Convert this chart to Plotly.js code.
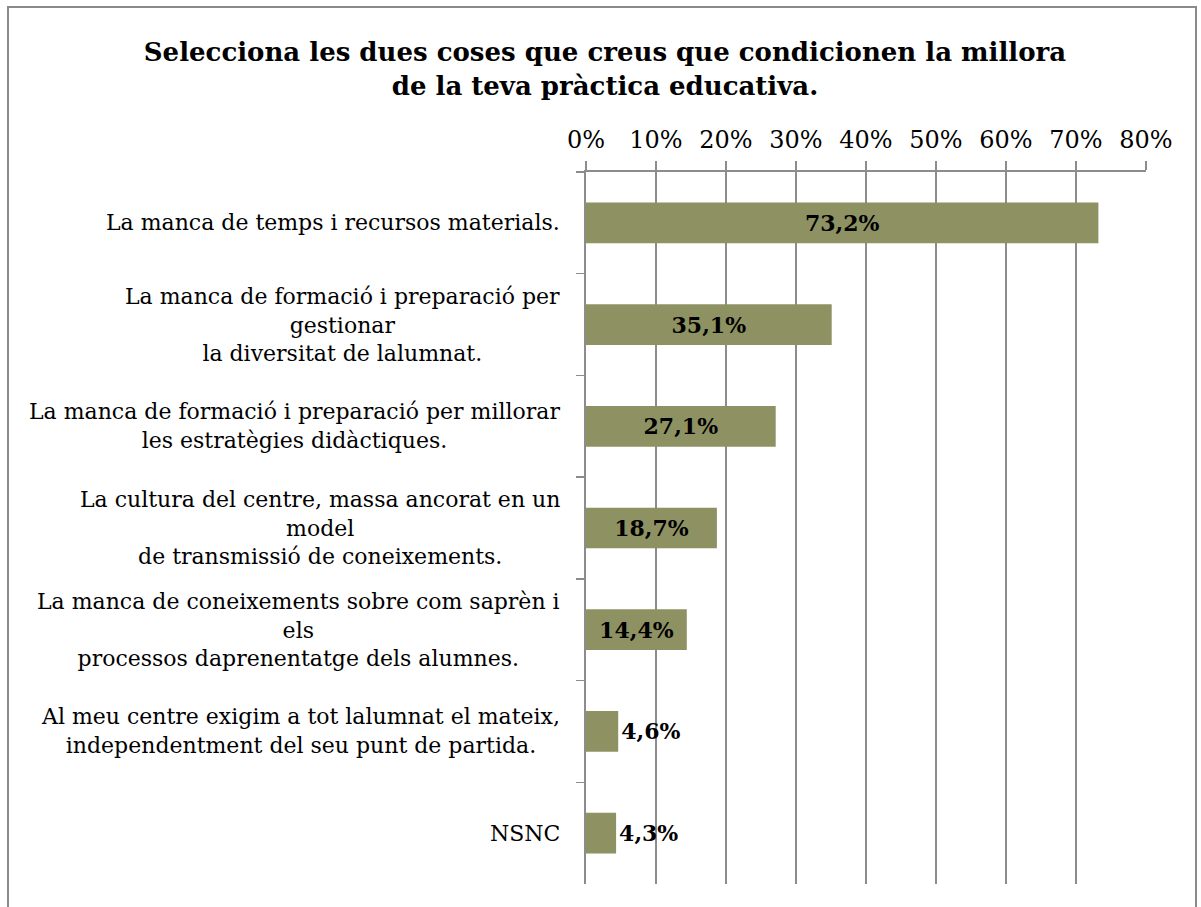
<!DOCTYPE html>
<html>
<head>
<meta charset="utf-8">
<script src="https://cdn.plot.ly/plotly-3.0.1.min.js"></script>
<style>
  html, body { margin: 0; padding: 0; background: #fff; }
  #wrap { position: relative; width: 1201px; height: 907px; overflow: hidden; }
  #frame { position: absolute; left: 7px; top: 6px; width: 1190px; height: 920px; border: 2px solid #8a8a8a; box-sizing: border-box; pointer-events: none; }
  #chart { width: 1201px; height: 907px; }
</style>
</head>
<body>
<div id="wrap">
  <div id="chart"></div>
  <div id="frame"></div>
</div>
<script>
const categories = [
  "La manca de temps i recursos materials.",
  "La manca de formació i preparació per<br>gestionar<br>la diversitat de lalumnat.",
  "La manca de formació i preparació per millorar<br>les estratègies didàctiques.",
  "La cultura del centre, massa ancorat en un<br>model<br>de transmissió de coneixements.",
  "La manca de coneixements sobre com saprèn i<br>els<br>processos daprenentatge dels alumnes.",
  "Al meu centre exigim a tot lalumnat el mateix,<br>independentment del seu punt de partida.",
  "NSNC"
];
const values = [0.732, 0.351, 0.271, 0.187, 0.144, 0.046, 0.043];
const labelPositions = ["inside", "inside", "inside", "inside", "inside", "outside", "outside"];
const tickVals = [0, 0.1, 0.2, 0.3, 0.4, 0.5, 0.6, 0.7, 0.8];

const serif = "DejaVu Serif, Liberation Serif, serif";

const trace = {
  type: "bar",
  orientation: "h",
  y: categories,
  x: values,
  marker: { color: "#8e9263", line: { width: 0 } },
  texttemplate: "<b>%{x:.1%}</b>",
  textposition: labelPositions,
  insidetextanchor: "middle",
  constraintext: "none",
  textangle: 0,
  cliponaxis: false,
  textfont: { family: serif, size: 22, color: "#000" },
  outsidetextfont: { family: serif, size: 22, color: "#000" },
  hoverinfo: "none"
};

const annotations = categories.map((c) => ({
  xref: "paper", yref: "y",
  x: 0, y: c,
  xanchor: "right", yanchor: "middle",
  xshift: -24,
  align: "center",
  text: c,
  showarrow: false,
  font: { family: serif, size: 22, color: "#000" }
}));

const layout = {
  width: 1201, height: 907,
  margin: { l: 586, r: 55, t: 172, b: 23 },
  paper_bgcolor: "#fff", plot_bgcolor: "#fff",
  separators: ",.",
  showlegend: false,
  bargap: 0.6,
  title: {
    text: "<b>Selecciona les dues coses que creus que condicionen la millora<br>de la teva pràctica educativa.</b>",
    xref: "container", x: 605 / 1201, xanchor: "center",
    yref: "container", y: 1 - 61 / 907, yanchor: "middle",
    font: { family: serif, size: 26, color: "#000" }
  },
  xaxis: {
    side: "top",
    range: [0, 0.8],
    tickvals: tickVals,
    tickformat: ".0%",
    showgrid: true, gridcolor: "#8c8c8c", gridwidth: 1.5,
    showline: true, linecolor: "#8c8c8c", linewidth: 2,
    ticks: "outside", ticklen: 9, tickcolor: "#8c8c8c", tickwidth: 1.5,
    ticklabelstandoff: 3,
    tickfont: { family: serif, size: 24, color: "#000" },
    zeroline: false, fixedrange: true
  },
  yaxis: {
    type: "category",
    autorange: "reversed",
    showticklabels: false,
    showline: true, linecolor: "#8c8c8c", linewidth: 2,
    ticks: "outside", tickson: "boundaries", ticklen: 8, tickcolor: "#8c8c8c", tickwidth: 1.5,
    showgrid: false, zeroline: false, fixedrange: true
  },
  annotations: annotations
};

Plotly.newPlot("chart", [trace], layout, { displayModeBar: false, staticPlot: true });
</script>
</body>
</html>
